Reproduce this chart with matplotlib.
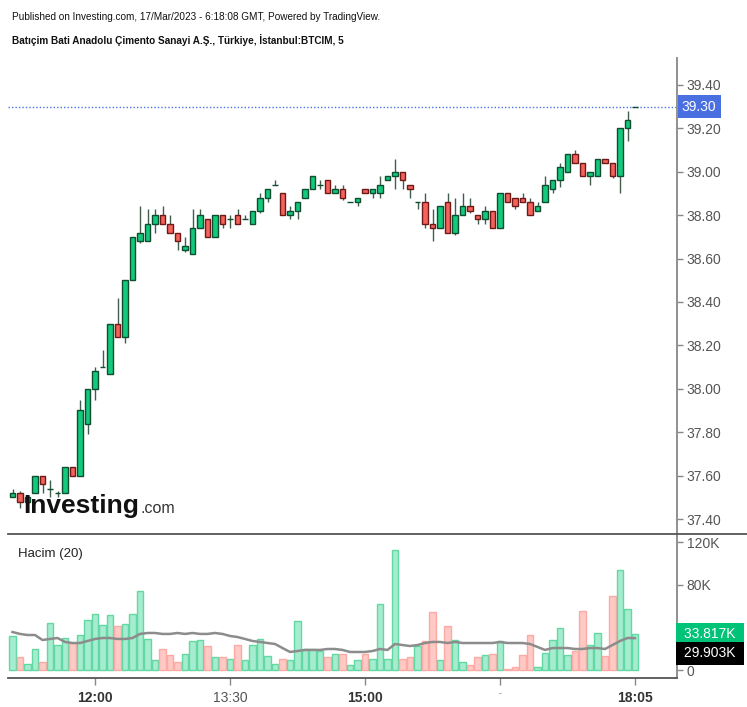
import numpy as np
import matplotlib
matplotlib.use('Agg')
import matplotlib.pyplot as plt
from matplotlib import font_manager
from matplotlib.lines import Line2D
import matplotlib.transforms as mtransforms

plt.rcParams['font.family'] = ['Liberation Sans', 'DejaVu Sans']

# 5 minute bars, BTCIM 17/Mar/2023
opens = [37.50, 37.52, 37.48, 37.52, 37.60, 37.54, 37.52, 37.52, 37.64, 37.60,
         37.84, 38.00, 38.10, 38.07, 38.30, 38.24, 38.50, 38.68, 38.68, 38.76,
         38.80, 38.76, 38.72, 38.64, 38.62, 38.74, 38.78, 38.70, 38.80, 38.78,
         38.80, 38.78, 38.76, 38.82, 38.88, 38.94, 38.90, 38.80, 38.82, 38.88,
         38.92, 38.94, 38.96, 38.90, 38.92, 38.86, 38.86, 38.92, 38.90, 38.90,
         38.96, 38.98, 39.00, 38.94, 38.86, 38.86, 38.76, 38.74, 38.86, 38.72,
         38.80, 38.84, 38.80, 38.78, 38.82, 38.74, 38.90, 38.88, 38.88, 38.86,
         38.82, 38.86, 38.92, 38.96, 39.00, 39.08, 39.04, 38.98, 38.98, 39.06,
         39.04, 38.98, 39.20, 39.30]
highs = [37.54, 37.53, 37.51, 37.60, 37.60, 37.58, 37.53, 37.64, 37.64, 37.95,
         38.00, 38.10, 38.18, 38.30, 38.42, 38.50, 38.70, 38.84, 38.83, 38.83,
         38.84, 38.80, 38.72, 38.70, 38.83, 38.83, 38.78, 38.80, 38.80, 38.80,
         38.83, 38.80, 38.82, 38.90, 38.92, 38.96, 38.90, 38.84, 38.86, 38.92,
         38.98, 38.96, 38.96, 38.94, 38.94, 38.86, 38.88, 38.92, 38.92, 38.98,
         38.98, 39.06, 39.00, 38.94, 38.86, 38.90, 38.83, 38.84, 38.90, 38.88,
         38.90, 38.88, 38.80, 38.84, 38.82, 38.90, 38.90, 38.88, 38.90, 38.88,
         38.86, 38.98, 38.96, 39.04, 39.08, 39.10, 39.04, 39.00, 39.06, 39.06,
         39.04, 39.20, 39.28, 39.30]
lows = [37.50, 37.45, 37.47, 37.52, 37.52, 37.50, 37.50, 37.52, 37.60, 37.60,
        37.79, 37.95, 38.10, 38.07, 38.24, 38.21, 38.50, 38.67, 38.68, 38.72,
        38.76, 38.72, 38.64, 38.63, 38.62, 38.74, 38.70, 38.70, 38.74, 38.74,
        38.76, 38.78, 38.76, 38.81, 38.86, 38.94, 38.80, 38.78, 38.78, 38.88,
        38.92, 38.92, 38.90, 38.90, 38.87, 38.86, 38.84, 38.90, 38.88, 38.88,
        38.96, 38.92, 38.92, 38.88, 38.83, 38.74, 38.68, 38.74, 38.72, 38.71,
        38.80, 38.81, 38.76, 38.76, 38.74, 38.74, 38.86, 38.83, 38.86, 38.80,
        38.82, 38.86, 38.90, 38.93, 39.00, 39.04, 38.98, 38.94, 38.98, 39.04,
        38.97, 38.90, 39.14, 39.30]
closes = [37.52, 37.48, 37.50, 37.60, 37.56, 37.54, 37.52, 37.64, 37.60, 37.90,
          38.00, 38.08, 38.10, 38.30, 38.24, 38.50, 38.70, 38.72, 38.76, 38.80,
          38.76, 38.72, 38.68, 38.66, 38.74, 38.80, 38.70, 38.80, 38.76, 38.78,
          38.76, 38.78, 38.82, 38.88, 38.92, 38.94, 38.80, 38.82, 38.86, 38.92,
          38.98, 38.94, 38.90, 38.92, 38.88, 38.86, 38.88, 38.90, 38.92, 38.94,
          38.98, 39.00, 38.96, 38.92, 38.86, 38.76, 38.74, 38.84, 38.72, 38.80,
          38.84, 38.82, 38.78, 38.82, 38.74, 38.90, 38.86, 38.84, 38.86, 38.80,
          38.84, 38.94, 38.96, 39.02, 39.08, 39.04, 38.98, 39.00, 39.06, 39.04,
          38.98, 39.20, 39.24, 39.30]

# volume in thousands
volumes = [31.9, 12.2, 5.6, 19.7, 7.5, 44.1, 23.4, 30.0, 25.3, 32.8,
           46.9, 52.5, 42.2, 51.6, 41.3, 43.1, 52.5, 74.1, 29.1, 9.4,
           19.7, 14.1, 7.5, 15.0, 27.2, 28.1, 22.5, 12.2, 12.2, 10.3,
           23.4, 9.4, 23.4, 29.1, 13.1, 5.6, 10.3, 9.4, 45.9, 19.7,
           19.7, 17.8, 12.2, 15.0, 15.0, 4.7, 9.4, 15.0, 10.3, 61.9,
           10.3, 112.5, 10.3, 12.2, 22.5, 27.2, 54.4, 9.4, 41.3, 28.1,
           7.5, 4.7, 12.2, 14.1, 15.0, 27.2, 0.5, 2.8, 14.1, 32.8,
           2.8, 15.9, 28.1, 39.4, 14.1, 17.8, 55.3, 23.4, 34.7, 13.1,
           69.4, 93.8, 57.2, 33.8]
# volume moving average (20), thousands
vol_ma = [35.6, 33.8, 32.8, 32.8, 28.1, 29.1, 30.0, 26.3, 25.3, 25.3,
          27.2, 29.1, 30.0, 30.0, 29.1, 29.1, 30.0, 33.8, 34.7, 34.7,
          33.8, 33.8, 34.7, 33.8, 34.7, 33.8, 33.8, 34.7, 33.8, 31.9,
          30.9, 29.1, 27.2, 26.3, 25.3, 24.4, 20.6, 16.9, 17.8, 18.8,
          18.8, 18.8, 19.7, 19.7, 18.8, 16.9, 16.9, 16.9, 17.8, 19.7,
          18.8, 24.4, 23.4, 22.5, 23.4, 25.3, 26.3, 26.3, 25.3, 26.3,
          25.3, 25.3, 25.3, 25.3, 25.3, 26.3, 25.3, 25.3, 25.3, 24.4,
          21.6, 18.8, 20.6, 20.6, 20.6, 19.7, 19.7, 20.6, 20.6, 19.7,
          23.4, 27.2, 30.0, 29.9]

tick_pos = [11, 29, 47, 65, 83]
tick_labels = ['12:00', '13:30', '15:00', '-', '18:05']
tick_bold = [True, False, True, False, True]
price_ticks = [37.40, 37.60, 37.80, 38.00, 38.20, 38.40, 38.60, 38.80, 39.00, 39.20, 39.40]
vol_ticks = [0, 40, 80, 120]
vol_tick_labels = ['0', '40K', '80K', '120K']
last_price = 39.30
last_vol = 33.817
last_ma = 29.903

W, H = 747, 707
fig = plt.figure(figsize=(W / 100, H / 100), dpi=100)
left, right = 8, 677
ax = fig.add_axes([left / W, 1 - 534 / H, (right - left) / W, (534 - 58) / H])
axv = fig.add_axes([left / W, 1 - 678 / H, (right - left) / W, (678 - 534) / H])

x = np.arange(len(opens))
o = np.array(opens)
c = np.array(closes)
up = c >= o
bot = np.minimum(o, c)
hgt = np.abs(c - o)

# candles
ax.vlines(x, lows, highs, color='#3f5f4d', lw=1, zorder=2)
ax.bar(x[up], hgt[up], bottom=bot[up], width=0.72, color='#12c97c',
       edgecolor='#0f4d30', lw=1, zorder=3)
ax.bar(x[~up], hgt[~up], bottom=bot[~up], width=0.72, color='#f4625c',
       edgecolor='#6e1818', lw=1, zorder=3)
ax.axhline(last_price, color='#4a72e8', ls=(0, (1, 1.5)), lw=1, zorder=1)

ax.set_xlim(-0.6, 88.6)
ax.set_ylim(37.331, 39.524)
ax.set_xticks([])
ax.yaxis.tick_right()
ax.set_yticks(price_ticks)
ax.set_yticklabels(['%.2f' % p for p in price_ticks])
ax.tick_params(axis='y', direction='out', length=4, width=1, color='#888888',
               labelcolor='#555555', labelsize=10, pad=3)
for s in ['top', 'left', 'bottom']:
    ax.spines[s].set_visible(False)
ax.spines['right'].set_color('#888888')
ax.spines['right'].set_linewidth(1.3)

# volume pane
vcol = np.where(up, '#a6ecd0', '#ffc9c5')
vedge = np.where(up, '#62d9a2', '#fbaaa4')
axv.bar(x, volumes, width=0.92, color=vcol, edgecolor=vedge, lw=1, zorder=2)
axv.plot(x, vol_ma, color='#8c8c8c', lw=1.8, zorder=3)
axv.set_xlim(-0.6, 88.6)
axv.set_ylim(-7.5, 127.5)
axv.yaxis.tick_right()
axv.set_yticks(vol_ticks)
axv.set_yticklabels(vol_tick_labels)
axv.tick_params(axis='y', direction='out', length=4, width=1, color='#888888',
                labelcolor='#555555', labelsize=10, pad=3)
axv.set_xticks(tick_pos)
axv.set_xticklabels(tick_labels)
axv.tick_params(axis='x', direction='out', length=5, width=1, color='#888888',
                labelcolor='#333333', labelsize=10, pad=4)
for lab, b in zip(axv.get_xticklabels(), tick_bold):
    if b:
        lab.set_fontweight('bold')
    else:
        lab.set_color('#555555')
axv.get_xticklabels()[3].set_fontsize(6)
for s in ['top', 'left']:
    axv.spines[s].set_visible(False)
axv.spines['right'].set_color('#888888')
axv.spines['right'].set_linewidth(1.3)
axv.spines['bottom'].set_color('#555555')
axv.spines['bottom'].set_linewidth(1.3)

# pane divider
fig.add_artist(Line2D([left / W, 1.0], [1 - 534 / H, 1 - 534 / H],
                      color='#555555', lw=1.3))

# last value labels
tp = mtransforms.blended_transform_factory(ax.transAxes, ax.transData)
ax.annotate('%.2f' % last_price, xy=(1.0, last_price), xycoords=tp,
            xytext=(3.5, 0), textcoords='offset points', ha='left', va='center',
            color='white', fontsize=10, annotation_clip=False,
            bbox=dict(boxstyle='square,pad=0.3', fc='#4a6fe0', ec='none'))
tv = mtransforms.blended_transform_factory(axv.transAxes, axv.transData)
axv.annotate(' %.3fK ' % last_vol, xy=(1.0, last_vol), xycoords=tv,
             xytext=(2.5, 0), textcoords='offset points', ha='left', va='center',
             color='white', fontsize=10, annotation_clip=False, zorder=5,
             bbox=dict(boxstyle='square,pad=0.3', fc='#00c377', ec='none'))
axv.annotate(' %.3fK ' % last_ma, xy=(1.0, last_vol), xycoords=tv,
             xytext=(2.5, -14), textcoords='offset points', ha='left', va='center',
             color='white', fontsize=10, annotation_clip=False, zorder=5,
             bbox=dict(boxstyle='square,pad=0.3', fc='black', ec='none'))

# header
names = [f.name for f in font_manager.fontManager.ttflist]
if 'Liberation Sans Narrow' in names:
    hfam, hsize = 'Liberation Sans Narrow', 8.2
else:
    hfam, hsize = 'Liberation Sans', 7.2
fig.text(12 / W, 1 - 17 / H, 'Published on Investing.com, 17/Mar/2023 - 6:18:08 GMT, Powered by TradingView.',
         family=hfam, fontsize=hsize, color='#111111', va='center', ha='left')
fig.text(12 / W, 1 - 40 / H, 'Batıçim Bati Anadolu Çimento Sanayi A.Ş., Türkiye, İstanbul:BTCIM, 5',
         family=hfam, fontsize=hsize, fontweight='bold', color='#111111', va='center', ha='left')

# watermark and pane title
ax.text(15 / (right - left), 0.045, 'Investing', transform=ax.transAxes, fontsize=19,
        fontweight='bold', color='#111111', ha='left', va='baseline', zorder=6)
ax.text(132 / (right - left), 0.045, '.com', transform=ax.transAxes, fontsize=11.5,
        color='#333333', ha='left', va='baseline', zorder=6)
axv.text(10 / (right - left), 0.86, 'Hacim (20)', transform=axv.transAxes, fontsize=9.5,
         color='#222222', ha='left', va='center')

fig.savefig('out.png', dpi=100, facecolor='white')
